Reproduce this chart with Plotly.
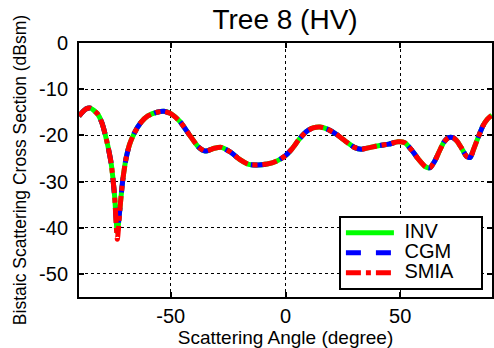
import plotly.graph_objects as go

angles = [-90, -87, -85, -82, -80, -78, -76, -74.5, -73.3, -72, -71, -69.5, -68, -66, -63, -60, -56, -53,
          -50, -46, -42, -38, -35, -31, -28, -24, -20, -16, -12, -8, -4, 0, 3, 6, 9, 12, 15, 18, 22, 26,
          30, 33, 37, 41, 45, 49, 52, 55, 58, 61, 63, 65, 67, 69, 71, 73, 75, 77, 79, 80.5, 82, 84, 86, 88, 90]
inv = [-15.8, -14.3, -14.1, -15.3, -17.3, -21.0, -26.0, -33.0, -41.0, -35.0, -30.0, -25.0, -22.0, -19.6, -17.2, -15.8, -15.0, -14.8,
       -15.3, -17.0, -19.8, -22.5, -23.4, -22.8, -22.6, -23.6, -25.2, -26.3, -26.4, -26.2, -25.6, -24.4, -22.8, -20.8, -19.2, -18.4, -18.2, -18.6, -19.7, -21.2,
       -22.6, -23.0, -22.6, -22.2, -21.9, -21.4, -21.6, -23.2, -25.2, -26.8, -27.0, -25.6, -23.5, -21.5, -20.5, -20.5, -21.4, -23.0, -24.6, -24.8, -23.0, -20.4, -18.0, -16.5, -15.6]
cgm = [-15.8, -14.3, -14.1, -15.3, -17.3, -21.0, -26.0, -33.0, -40.5, -35.0, -30.0, -25.0, -22.0, -19.6, -17.2, -15.8, -15.0, -14.8,
       -15.3, -17.0, -19.8, -22.5, -23.4, -22.8, -22.6, -23.6, -25.2, -26.3, -26.4, -26.2, -25.6, -24.4, -22.8, -20.8, -19.2, -18.4, -18.2, -18.6, -19.7, -21.2,
       -22.6, -23.0, -22.6, -22.2, -21.9, -21.4, -21.6, -23.2, -25.2, -26.8, -27.0, -25.6, -23.5, -21.5, -20.5, -20.5, -21.4, -23.0, -24.6, -24.8, -23.0, -20.4, -18.0, -16.5, -15.6]
smia = [-15.8, -14.3, -14.1, -15.3, -17.3, -21.0, -26.0, -33.0, -42.5, -35.0, -30.0, -25.0, -22.0, -19.6, -17.2, -15.8, -15.0, -14.8,
        -15.3, -17.0, -19.8, -22.5, -23.4, -22.8, -22.6, -23.6, -25.2, -26.3, -26.4, -26.2, -25.6, -24.4, -22.8, -20.8, -19.2, -18.4, -18.2, -18.6, -19.7, -21.2,
        -22.6, -23.0, -22.6, -22.2, -21.9, -21.4, -21.6, -23.2, -25.2, -26.8, -27.0, -25.6, -23.5, -21.5, -20.5, -20.5, -21.4, -23.0, -24.6, -24.8, -23.0, -20.4, -18.0, -16.5, -15.6]

series_names = ["INV", "CGM", "SMIA"]

x_ticks = [-50, 0, 50]
x_tick_labels = ["-50", "0", "50"]
y_ticks = [0, -10, -20, -30, -40, -50]
y_tick_labels = ["0", "-10", "-20", "-30", "-40", "-50"]

font = "Liberation Sans, Arial, sans-serif"


def legend_label(name):
    return '<span style="font-size:20px">&nbsp;' + name + '&nbsp;&nbsp;&nbsp;&nbsp;</span>'


fig = go.Figure()
fig.add_trace(go.Scatter(x=angles, y=inv, name=legend_label(series_names[0]), mode="lines",
                         line=dict(color="#00FF00", width=5, shape="spline", smoothing=0.6)))
fig.add_trace(go.Scatter(x=angles, y=cgm, name=legend_label(series_names[1]), mode="lines",
                         line=dict(color="#0000FF", width=5, dash="dash", shape="spline", smoothing=0.6)))
fig.add_trace(go.Scatter(x=angles, y=smia, name=legend_label(series_names[2]), mode="lines",
                         line=dict(color="#FF0000", width=5, dash="dashdot", shape="spline", smoothing=0.6)))

axis_common = dict(showline=True, linecolor="black", linewidth=2, mirror="ticks",
                   ticks="inside", ticklen=5, tickwidth=1.5, tickcolor="black",
                   showgrid=True, gridcolor="black", gridwidth=1, griddash="dot",
                   zeroline=False)

fig.update_layout(
    width=494, height=348,
    margin=dict(l=79, r=0, t=43, b=51),
    paper_bgcolor="white", plot_bgcolor="white",
    title=dict(text="Tree 8 (HV)", x=0.577, xanchor="center", y=0.945, yanchor="middle",
               font=dict(family=font, size=28, color="black")),
    xaxis=dict(range=[-90, 90], tickvals=x_ticks, ticktext=x_tick_labels,
               tickfont=dict(family=font, size=20, color="black"),
               title=dict(text="Scattering Angle (degree)", standoff=3,
                          font=dict(family=font, size=19, color="black")),
               **axis_common),
    yaxis=dict(range=[-55, 0], tickvals=y_ticks, ticktext=y_tick_labels,
               tickfont=dict(family=font, size=20, color="black"),
               ticklabelstandoff=5,
               title=dict(text="Bistaic Scattering Cross Section (dBsm)", standoff=8,
                          font=dict(family=font, size=17.5, color="black")),
               **axis_common),
    legend=dict(x=0.978, xanchor="right", y=0.028, yanchor="bottom",
                bgcolor="white", bordercolor="black", borderwidth=2,
                font=dict(family=font, size=13, color="black"),
                tracegroupgap=0, itemwidth=48),
    showlegend=True,
)

fig.write_html("out.html")
